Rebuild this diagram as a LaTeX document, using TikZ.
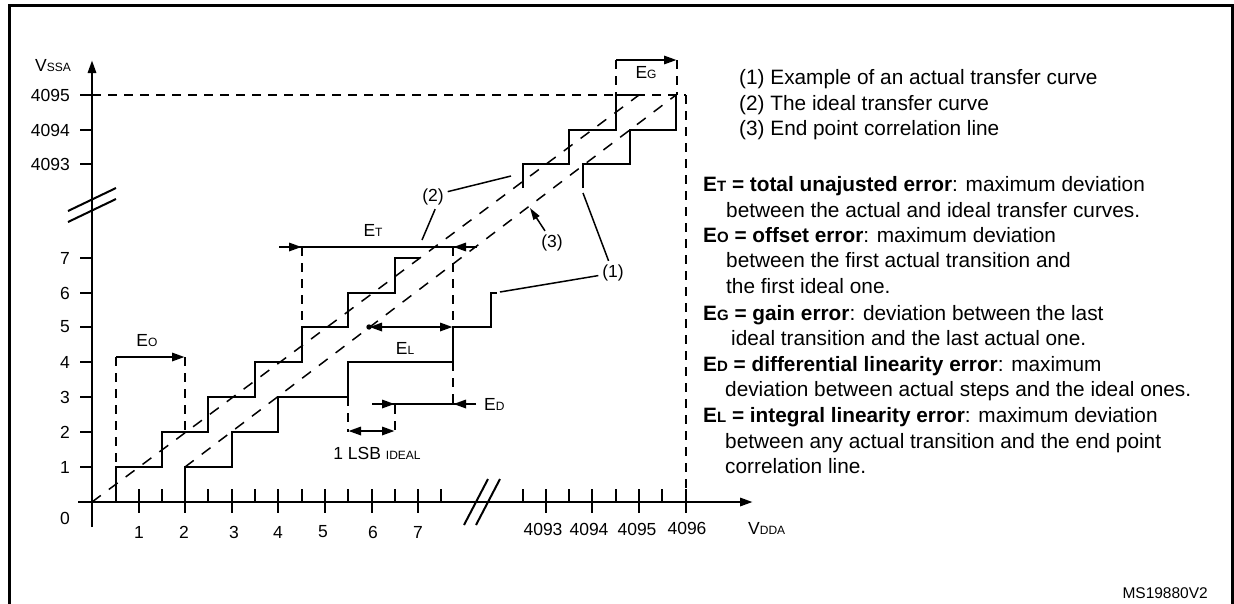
\documentclass[tikz,border=0pt]{standalone}
\usepackage{fontspec}
\setmainfont{Liberation Sans}
\usetikzlibrary{arrows.meta}
\newcommand\gsm[1]{{\fontsize{12}{12}\selectfont #1}}
\newcommand\tsm[1]{{\fontsize{15}{15}\selectfont #1}}
\begin{document}
\begin{tikzpicture}[x=1pt,y=-1pt,
  thickl/.style={line width=2.9pt},
  dsh/.style={line width=2.7pt, dash pattern=on 9pt off 7pt},
  diag/.style={line width=1.5pt, dash pattern=on 11pt off 10pt},
  lead/.style={line width=1.5pt},
  arr/.style={-{Triangle[length=13pt,width=8pt]}},
  darr/.style={{Triangle[length=13pt,width=8pt]}-{Triangle[length=13pt,width=8pt]}},
  glab/.style={font=\fontsize{17.5}{17.5}\selectfont, inner sep=0pt},
  llab/.style={font=\fontsize{17.5}{17.5}\selectfont, inner sep=0pt, outer sep=4pt},
  txt/.style={font=\fontsize{20.8}{20.8}\selectfont, inner sep=0pt, anchor=base west}]
\useasboundingbox (0,0) rectangle (1234,603);
% frame
\draw[line width=3pt] (9,620)--(9,5)--(1232,5)--(1232,620);

% axes
\coordinate (O) at (92,502);
\coordinate (ytop) at (92,60);
\coordinate (ybot) at (92,527);
\coordinate (xleft) at (78,502);
\coordinate (xright) at (753,502);
\draw[thickl,arr] (ybot)--(ytop);
\draw[thickl,arr] (xleft)--(xright);

% y ticks
\foreach \y in {95,130,164,258,293,327,362,397,432,467}
  \draw[thickl] (80,\y)--(92,\y);
% x ticks integer
\foreach \x in {139,185,232,278,325,372,418,546,592,639,686}
  \draw[thickl] (\x,489)--(\x,513);
% x ticks half
\foreach \x in {116,162,208,255,302,348,395,441,523,569,616,662}
  \draw[thickl] (\x,489)--(\x,502);

% axis breaks
\draw[line width=2pt] (68,211)--(116,188);
\draw[line width=2pt] (68,222)--(116,199);
\draw[line width=2pt] (464,525)--(488,479);
\draw[line width=2pt] (476,525)--(500,479);

% axis labels
\node[glab,anchor=east] (y4095) at (70,95) {4095};
\node[glab,anchor=east] (y4094) at (70,130) {4094};
\node[glab,anchor=east] (y4093) at (70,164) {4093};
\node[glab,anchor=east] (y7) at (70,258) {7};
\node[glab,anchor=east] (y6) at (70,293) {6};
\node[glab,anchor=east] (y5) at (70,327) {5};
\node[glab,anchor=east] (y4) at (70,362) {4};
\node[glab,anchor=east] (y3) at (70,397) {3};
\node[glab,anchor=east] (y2) at (70,432) {2};
\node[glab,anchor=east] (y1) at (70,467) {1};
\node[glab] (y0) at (65,518) {0};
\node[glab] (x1) at (139,532) {1};
\node[glab] (x2) at (184,532) {2};
\node[glab] (x3) at (234,532) {3};
\node[glab] (x4) at (278,532) {4};
\node[glab] (x5) at (323,532) {5};
\node[glab] (x6) at (373,532) {6};
\node[glab] (x7) at (418,532) {7};
\node[glab] (x4093) at (543,529) {4093};
\node[glab] (x4094) at (589,529) {4094};
\node[glab] (x4095) at (637,529) {4095};
\node[glab] (x4096) at (687,528) {4096};
\node[glab,anchor=base west] (vssa) at (35,71) {V\gsm{SSA}};
\node[glab,anchor=base west] (vdda) at (748,534) {V\gsm{DDA}};

% reference dashed lines at 4095 / 4096
\draw[dsh] (92,95)--(686,95);
\draw[dsh] (686,95)--(686,489);

% diagonal lines
\draw[diag] (O)--(639,95);
\draw[diag] (185,467)--(676,95);

% ideal staircase (2)
\draw[thickl] (116,502)--(116,467)--(162,467)--(162,432)--(208,432)--(208,397)--(255,397)--(255,362)--(302,362)--(302,327)--(348,327)--(348,293)--(395,293)--(395,258)--(420,258);
\draw[thickl] (523,188)--(523,164)--(569,164)--(569,130)--(616,130)--(616,95)--(638,95);
% actual staircase (1)
\draw[thickl] (185,502)--(185,467)--(232,467)--(232,432)--(278,432)--(278,397)--(348,397)--(348,362)--(453,362)--(453,327)--(491,327)--(491,293)--(497,293);
\draw[thickl] (583,188)--(583,164)--(630,164)--(630,130)--(676,130)--(676,95);

% EO
\draw[dsh] (116,357)--(116,467);
\draw[dsh] (185,357)--(185,432);
\draw[thickl,arr] (116,357)--(185,357);
\node[glab] (EO) at (147,341) {E\gsm{O}};

% ET
\draw[dsh] (302,247)--(302,327);
\draw[dsh] (453,247)--(453,327);
\draw[dsh] (453,362)--(453,404);
\draw[thickl] (279,247)--(477,247);
\draw[thickl,arr] (279,247)--(302,247);
\draw[thickl,arr] (477,247)--(453,247);
\node[glab] (ET) at (373,230) {E\gsm{T}};

% EL
\fill (369,327) circle (2.7pt);
\draw[thickl,darr] (369,327)--(453,327);
\node[glab] (EL) at (405,348) {E\gsm{L}};

% 1 LSB ideal / ED
\draw[dsh] (348,397)--(348,432);
\draw[dsh] (395,405)--(395,432);
\draw[thickl,darr] (348,431)--(395,431);
\node[glab] (lsb) at (377,453) {1 LSB \gsm{IDEAL}};
\draw[thickl] (372,404)--(476,404);
\draw[thickl,arr] (372,404)--(395,404);
\draw[thickl,arr] (476,404)--(453,404);
\node[glab,anchor=west] (ED) at (484,404) {E\gsm{D}};

% EG
\draw[dsh] (616,60)--(616,95);
\draw[dsh] (677,60)--(677,95);
\draw[thickl,arr] (616,60)--(677,60);
\node[glab] (EG) at (646,73) {E\gsm{G}};

% leader labels
\node[llab] (l2) at (433,197) {(2)};
\node[llab] (l3) at (552,243) {(3)};
\node[llab] (l1) at (613,273) {(1)};
\coordinate (p2a) at (511,176);
\coordinate (p2b) at (422,240);
\coordinate (p3) at (530,208);
\coordinate (p1a) at (583,193);
\coordinate (p1b) at (500,292);
\draw[lead] (l2.20)--(p2a);
\draw[lead] (l2.-80)--(p2b);
\draw[lead,-{Triangle[length=12pt,width=7pt]}] (l3.120)--(p3);
\draw[lead] (l1.110)--(p1a);
\draw[lead] (l1.190)--(p1b);

% legend
\node[txt] (lg1) at (739,84) {(1) Example of an actual transfer curve};
\node[txt] (lg2) at (739,110) {(2) The ideal transfer curve};
\node[txt] (lg3) at (739,135) {(3) End point correlation line};

% definitions
\node[txt] (d1) at (703,191) {\textbf{E\tsm{T} = total unajusted error}: maximum deviation};
\node[txt] (d2) at (726,217) {between the actual and ideal transfer curves.};
\node[txt] (d3) at (703,242) {\textbf{E\tsm{O} = offset error}: maximum deviation};
\node[txt] (d4) at (726,267) {between the first actual transition and};
\node[txt] (d5) at (726,293) {the first ideal one.};
\node[txt] (d6) at (703,320) {\textbf{E\tsm{G} = gain error}: deviation between the last};
\node[txt] (d7) at (731,345) {ideal transition and the last actual one.};
\node[txt] (d8) at (703,371) {\textbf{E\tsm{D} = differential linearity error}: maximum};
\node[txt] (d9) at (725,396) {deviation between actual steps and the ideal ones.};
\node[txt] (d10) at (703,422) {\textbf{E\tsm{L} = integral linearity error}: maximum deviation};
\node[txt] (d11) at (725,448) {between any actual transition and the end point};
\node[txt] (d12) at (725,473) {correlation line.};

\node[font=\fontsize{15.5}{15.5}\selectfont, inner sep=0pt, anchor=base east] (ms) at (1208,598) {MS19880V2};
\end{tikzpicture}
\end{document}
